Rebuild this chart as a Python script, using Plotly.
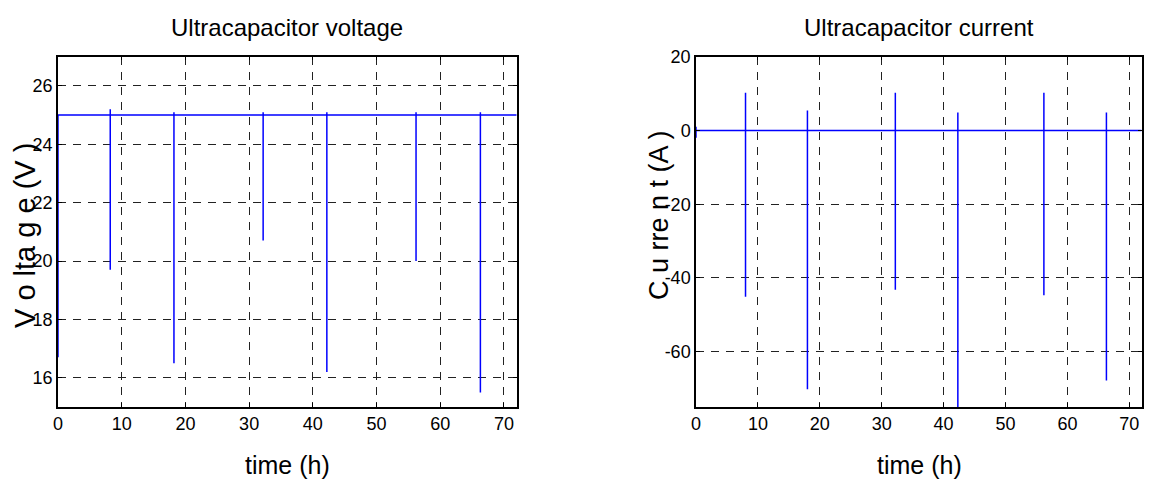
import plotly.graph_objects as go

# ---------------- data ----------------
# Ultracapacitor voltage: baseline value and transient spikes
v_base = 25.0
v_spike_time = [0.0, 8.2, 18.2, 32.2, 42.2, 56.2, 66.3]
v_spike_max = [25.0, 25.2, 25.1, 25.1, 25.1, 25.1, 25.1]
v_spike_min = [16.7, 19.7, 16.5, 20.7, 16.2, 20.0, 15.5]

# Ultracapacitor current: baseline value and transient spikes
i_base = 0.0
i_spike_time = [0.0, 8.0, 18.0, 32.2, 42.3, 56.2, 66.3]
i_spike_max = [1.0, 10.2, 5.4, 10.2, 4.9, 10.2, 4.9]
i_spike_min = [-2.0, -45.1, -70.2, -43.2, -78.0, -44.7, -67.8]

t_end = 72.0

x_ticks = [0, 10, 20, 30, 40, 50, 60, 70]
v_ticks = [16, 18, 20, 22, 24, 26]
i_ticks = [-60, -40, -20, 0, 20]


def build_series(base, times, maxs, mins, end):
    xs, ys = [], []
    for t, hi, lo in zip(times, maxs, mins):
        xs += [t, t, t, t]
        ys += [base, hi, lo, base]
    xs.append(end)
    ys.append(base)
    return xs, ys


vx, vy = build_series(v_base, v_spike_time, v_spike_max, v_spike_min, t_end)
ix, iy = build_series(i_base, i_spike_time, i_spike_max, i_spike_min, t_end)

# page body has an 8px default margin: size the figure so it fills the window exactly
OFF = 8
W, H = 1155 - OFF, 484 - OFF
FONT = "Liberation Sans, Arial, sans-serif"

fig = go.Figure()
fig.add_trace(go.Scatter(x=vx, y=vy, mode="lines", line=dict(color="#0000ff", width=1.5),
                         xaxis="x", yaxis="y", showlegend=False, hoverinfo="skip"))
fig.add_trace(go.Scatter(x=ix, y=iy, mode="lines", line=dict(color="#0000ff", width=1.5),
                         xaxis="x2", yaxis="y2", showlegend=False, hoverinfo="skip"))


def px_x(p):
    return (p - OFF) / W


def px_y(p):
    return 1 - (p - OFF) / H


common_axis = dict(
    showline=True, linecolor="black", linewidth=1.5, mirror="ticks",
    ticks="inside", ticklen=4, tickcolor="black", tickwidth=1,
    showgrid=True, gridcolor="#222222", gridwidth=1, griddash="8px,7px",
    zeroline=False, automargin=False,
    tickfont=dict(family=FONT, size=18, color="black"),
)

y_dom = [px_y(407), px_y(56.7)]

fig.update_layout(
    width=W, height=H,
    margin=dict(l=0, r=0, t=0, b=0),
    paper_bgcolor="white", plot_bgcolor="white",
    xaxis=dict(domain=[px_x(58), px_x(516.7)], range=[0, t_end], tickvals=x_ticks,
               ticktext=[str(v) for v in x_ticks], anchor="y", **common_axis),
    yaxis=dict(domain=y_dom, range=[15, 27], tickvals=v_ticks,
               ticktext=[str(v) for v in v_ticks], anchor="x", **common_axis),
    xaxis2=dict(domain=[px_x(696), px_x(1141.7)], range=[0, t_end], tickvals=x_ticks,
                ticktext=[str(v) for v in x_ticks], anchor="y2", **common_axis),
    yaxis2=dict(domain=y_dom, range=[-75, 20], tickvals=i_ticks,
                ticktext=[str(v) for v in i_ticks], anchor="x2", **common_axis),
    annotations=[
        dict(text="Ultracapacitor voltage", x=px_x(287), y=px_y(28), xref="paper", yref="paper",
             xanchor="center", yanchor="middle", showarrow=False,
             font=dict(family=FONT, size=24, color="black")),
        dict(text="Ultracapacitor current", x=px_x(919), y=px_y(28), xref="paper", yref="paper",
             xanchor="center", yanchor="middle", showarrow=False,
             font=dict(family=FONT, size=24, color="black")),
        dict(text="time (h)", x=px_x(287), y=px_y(465), xref="paper", yref="paper",
             xanchor="center", yanchor="middle", showarrow=False,
             font=dict(family=FONT, size=25, color="black")),
        dict(text="time (h)", x=px_x(919), y=px_y(465), xref="paper", yref="paper",
             xanchor="center", yanchor="middle", showarrow=False,
             font=dict(family=FONT, size=25, color="black")),
        dict(text="V o lta g e (V )", x=px_x(25), y=px_y(236), xref="paper", yref="paper",
             xanchor="center", yanchor="middle", showarrow=False, textangle=-90,
             font=dict(family=FONT, size=29, color="black")),
        dict(text="C u rre n t (A )", x=px_x(659), y=px_y(215), xref="paper", yref="paper",
             xanchor="center", yanchor="middle", showarrow=False, textangle=-90,
             font=dict(family=FONT, size=27, color="black")),
    ],
)

fig.write_html("out.html")
